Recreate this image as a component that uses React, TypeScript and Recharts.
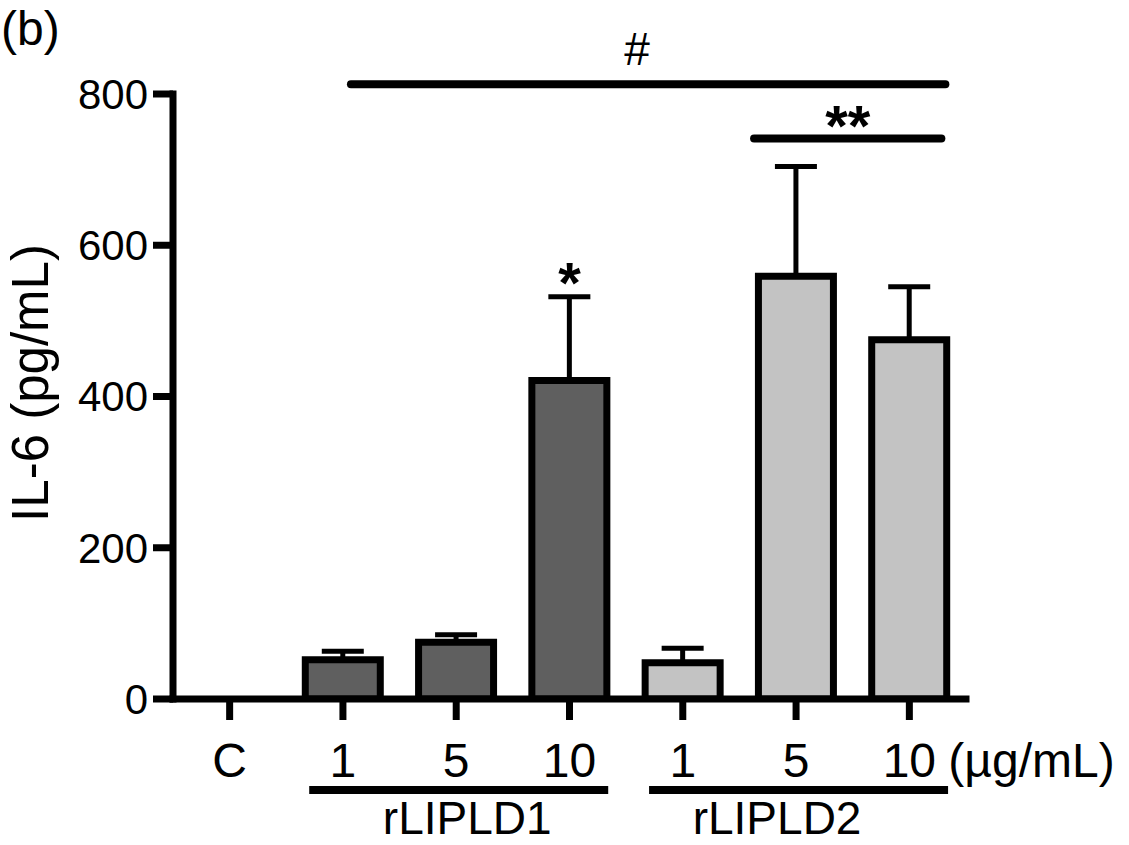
import React from "react";
import {
  BarChart,
  Bar,
  XAxis,
  YAxis,
  Cell,
  ErrorBar,
  ReferenceLine,
  ReferenceDot,
} from "recharts";

// doses along the x axis, and which protein each one belongs to
const doses = ["C", "1", "5", "10", "1", "5", "10"];
const groups = ["Control", "rLIPLD1", "rLIPLD1", "rLIPLD1", "rLIPLD2", "rLIPLD2", "rLIPLD2"];
// IL-6 (pg/mL), mean and upper error
const il6 = [null, 52, 75, 421, 48, 559, 475];
const sem = [null, 11, 10, 111, 19, 145, 70];
const yTicks = [0, 200, 400, 600, 800];

// significance marks
const brackets = [
  { from: "rLIPLD1-1", to: "rLIPLD2-10", level: 813, mark: "#" },
  { from: "rLIPLD2-5", to: "rLIPLD2-10", level: 741, mark: "**" },
];
const stars = [{ at: "rLIPLD1-10", mark: "*" }];

const fills: Record<string, string> = {
  Control: "#ffffff",
  rLIPLD1: "#5f5f5f",
  rLIPLD2: "#c3c3c3",
};

const keys = doses.map((d, i) => `${groups[i]}-${d}`);
const data = doses.map((d, i) => ({
  key: keys[i],
  dose: d,
  group: groups[i],
  value: il6[i],
  err: sem[i] == null ? null : [0, sem[i]],
}));

// visual tweaks (pixels) for the bracket lines and their marks
const bracketStyle = [
  { dx1: 8, dx2: 36, textDx: -11, textDy: -19, fontSize: 46, fontWeight: 400 },
  { dx1: -42, dx2: 32, textDx: 0, textDy: 7, fontSize: 58, fontWeight: 700 },
];
const groupLabelDx: Record<string, number> = { rLIPLD1: 11, rLIPLD2: -19 };

function DoseTick(props: any) {
  const { x, y, payload } = props;
  const i = keys.indexOf(payload.value);
  const g = groups[i];
  const members = groups.map((gg, j) => (gg === g ? j : -1)).filter((j) => j >= 0);
  const isMiddle = g !== "Control" && members[Math.floor(members.length / 2)] === i;
  const isLast = i === keys.length - 1;
  return (
    <g>
      <text x={x} y={y} dy="0.71em" textAnchor="middle" fontSize={48} fill="#000">
        {doses[i]}
      </text>
      {isLast && (
        <text x={x + 39} y={y} dy="0.71em" textAnchor="start" fontSize={48} fill="#000">
          (µg/mL)
        </text>
      )}
      {isMiddle && (
        <g>
          <line x1={x - 147} x2={x + 152} y1={y + 47} y2={y + 47} stroke="#000" strokeWidth={8} />
          <text x={x + groupLabelDx[g]} y={y + 91} textAnchor="middle" fontSize={46} fill="#000">
            {g}
          </text>
        </g>
      )}
    </g>
  );
}

export default function App() {
  return (
    <div
      style={{
        position: "absolute",
        left: 0,
        top: 0,
        width: 1129,
        height: 845,
        background: "#fff",
        fontFamily: "'Liberation Sans', Arial, sans-serif",
      }}
    >
      <BarChart
        width={1129}
        height={845}
        data={data}
        margin={{ top: 94, right: 163, bottom: 6, left: 73 }}
      >
        <XAxis
          dataKey="key"
          type="category"
          height={140}
          interval={0}
          tick={<DoseTick />}
          tickSize={21}
          tickMargin={23}
          axisLine={{ stroke: "#000", strokeWidth: 7, strokeLinecap: "square" }}
          tickLine={{ stroke: "#000", strokeWidth: 7 }}
        />
        <YAxis
          type="number"
          domain={[0, 800]}
          allowDataOverflow
          ticks={yTicks}
          width={100}
          tickSize={20}
          tickMargin={5}
          tick={{ fontSize: 42, fill: "#000" }}
          axisLine={{ stroke: "#000", strokeWidth: 7, strokeLinecap: "square" }}
          tickLine={{ stroke: "#000", strokeWidth: 7 }}
        />
        <Bar
          dataKey="value"
          barSize={75}
          stroke="#000"
          strokeWidth={7}
          isAnimationActive={false}
        >
          {data.map((d) => (
            <Cell key={d.key} fill={fills[d.group]} />
          ))}
          <ErrorBar
            dataKey="err"
            direction="y"
            width={21}
            stroke="#000"
            strokeWidth={5}
            isAnimationActive={false}
          />
        </Bar>
        {brackets.map((b, i) => {
          const s = bracketStyle[i];
          return (
            <ReferenceLine
              key={b.mark}
              ifOverflow="visible"
              segment={[
                { x: b.from, y: b.level },
                { x: b.to, y: b.level },
              ]}
              shape={(p: any) => (
                <g>
                  <line
                    x1={p.x1 + s.dx1}
                    x2={p.x2 + s.dx2}
                    y1={p.y1}
                    y2={p.y2}
                    stroke="#000"
                    strokeWidth={8}
                    strokeLinecap="round"
                  />
                  <text
                    x={(p.x1 + s.dx1 + p.x2 + s.dx2) / 2 + s.textDx}
                    y={p.y1 + s.textDy}
                    textAnchor="middle"
                    fontSize={s.fontSize}
                    fontWeight={s.fontWeight}
                    fill="#000"
                  >
                    {b.mark}
                  </text>
                </g>
              )}
            />
          );
        })}
        {stars.map((st) => {
          const i = keys.indexOf(st.at);
          return (
            <ReferenceDot
              key={st.at}
              x={st.at}
              y={(il6[i] as number) + (sem[i] as number)}
              r={0}
              ifOverflow="visible"
              shape={(p: any) => (
                <text x={p.cx} y={p.cy + 6} textAnchor="middle" fontSize={58} fontWeight={700} fill="#000">
                  {st.mark}
                </text>
              )}
            />
          );
        })}
      </BarChart>
      <svg
        width={1129}
        height={845}
        style={{ position: "absolute", left: 0, top: 0, pointerEvents: "none" }}
      >
        <text x={1} y={45} fontSize={48} fill="#000">
          (b)
        </text>
        <text
          transform="translate(48, 383) rotate(-90)"
          textAnchor="middle"
          fontSize={51}
          fill="#000"
        >
          IL-6 (pg/mL)
        </text>
      </svg>
    </div>
  );
}
